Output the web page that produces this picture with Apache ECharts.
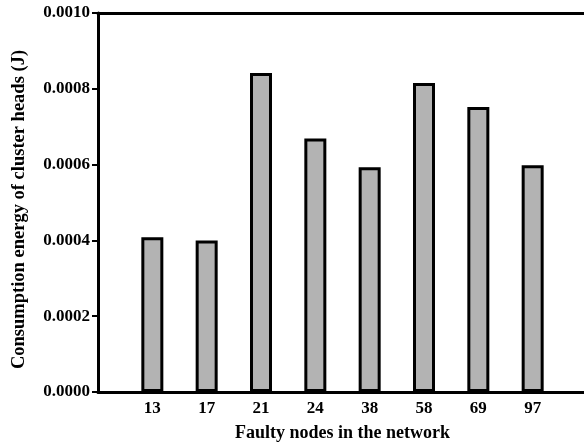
<!DOCTYPE html>
<html>
<head>
<meta charset="utf-8">
<script src="https://cdn.jsdelivr.net/npm/echarts@6/dist/echarts.min.js"></script>
<style>
  html, body { margin: 0; padding: 0; background: #fff; }
  #chart { width: 584px; height: 443px; }
</style>
</head>
<body>
<div id="chart"></div>
<script>
// faulty nodes (x categories) and consumption energy of cluster heads (J)
const faultyNodes = ['13', '17', '21', '24', '38', '58', '69', '97'];
const energyValues = [0.000408, 0.000400, 0.000842, 0.000669, 0.000593, 0.000815, 0.000752, 0.000598];
const yTicks = [0, 0.0002, 0.0004, 0.0006, 0.0008, 0.0010];

const font = 'Liberation Serif';
// blank slot at each end so the bars sit away from the y axis
const cats = [''].concat(faultyNodes, ['']);
const vals = [null].concat(energyValues, [null]);

const chart = echarts.init(document.getElementById('chart'), null, { renderer: 'canvas' });
chart.setOption({
  animation: false,
  backgroundColor: '#fff',
  grid: { left: 98, right: -3, top: 13, bottom: 51, containLabel: false, outerBoundsMode: 'none' },
  xAxis: [{
    type: 'category',
    data: cats,
    boundaryGap: false,
    axisLine: { lineStyle: { color: '#000', width: 3 } },
    axisTick: { show: false },
    axisLabel: { color: '#000', fontFamily: font, fontWeight: 'bold', fontSize: 17, margin: 8 },
    name: 'Faulty nodes in the network',
    nameLocation: 'middle',
    nameGap: 32,
    nameTextStyle: { color: '#000', fontFamily: font, fontWeight: 'bold', fontSize: 18, verticalAlign: 'top' }
  }, {
    type: 'category',
    data: cats,
    boundaryGap: false,
    position: 'top',
    axisLine: { lineStyle: { color: '#000', width: 3 } },
    axisTick: { show: false },
    axisLabel: { show: false }
  }],
  yAxis: {
    type: 'value',
    min: yTicks[0],
    max: yTicks[yTicks.length - 1],
    interval: 0.0002,
    axisLine: { show: true, lineStyle: { color: '#000', width: 3 } },
    axisTick: { show: true, length: 6, lineStyle: { color: '#000', width: 2 } },
    splitLine: { show: false },
    axisLabel: {
      color: '#000', fontFamily: font, fontWeight: 'bold', fontSize: 17, margin: 8,
      formatter: v => v.toFixed(4)
    },
    name: 'Consumption energy of cluster heads (J)',
    nameLocation: 'middle',
    nameGap: 69,
    nameRotate: 90,
    nameTextStyle: { color: '#000', fontFamily: font, fontWeight: 'bold', fontSize: 18.5, padding: [0, 14, 0, 0] }
  },
  series: [{
    type: 'bar',
    data: vals,
    barWidth: 22,
    itemStyle: { color: '#b3b3b3', borderColor: '#000', borderWidth: 3 }
  }]
});
</script>
</body>
</html>
